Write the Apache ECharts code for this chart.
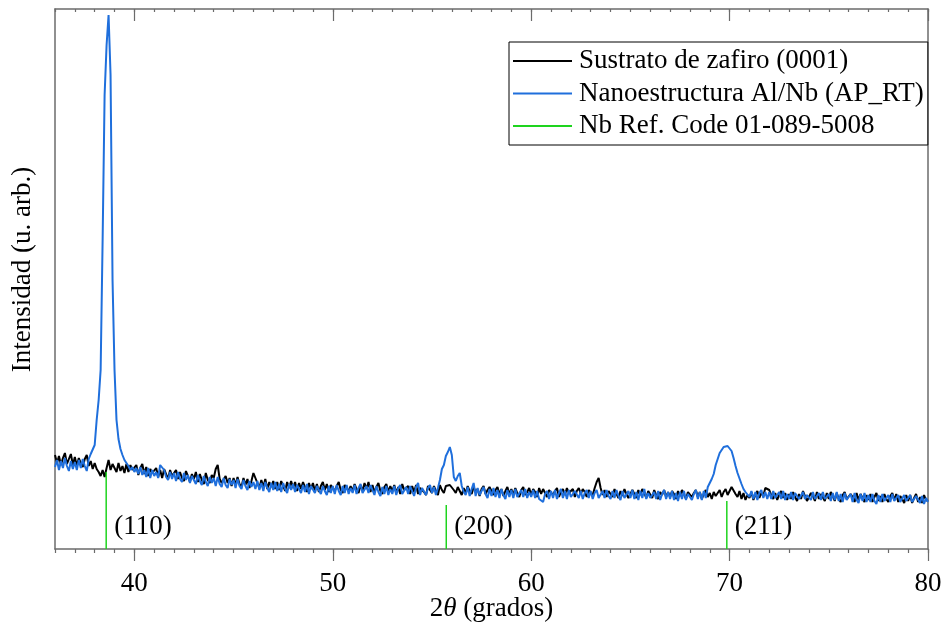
<!DOCTYPE html>
<html>
<head>
<meta charset="utf-8">
<script src="https://cdn.jsdelivr.net/npm/echarts@6/dist/echarts.min.js"></script>
<style>
html,body{margin:0;padding:0;background:#fff;}
#chart{width:945px;height:628px;}
</style>
</head>
<body>
<div id="chart"></div>
<script>
// 2θ sampling grid (degrees)
const twoThetaStart = 36;
const twoThetaStep = 0.1;
const xMin = 36, xMax = 80;
const xMajorTicks = [40, 50, 60, 70, 80];

// Sustrato de zafiro (0001) – intensity (a.u.), one row per degree (x.0 ... x.9)
const sustrato = [
  94, 86, 93, 84, 91, 96, 85, 90, 95, 84,   // 36
  92, 83, 91, 86, 82, 90, 94, 83, 88, 80,   // 37
  86, 80, 77, 73, 79, 72, 81, 89, 79, 85,   // 38
  85, 77, 86, 78, 83, 76, 85, 77, 84, 79,   // 39
  77, 84, 74, 81, 85, 75, 82, 73, 80, 76,   // 40
  74, 81, 72, 79, 71, 80, 75, 70, 79, 73,   // 41
  72, 79, 70, 77, 71, 68, 78, 73, 67, 75,   // 42
  70, 77, 67, 75, 69, 65, 76, 69, 66, 74,   // 43
  71, 80, 84, 70, 66, 64, 73, 66, 71, 63,   // 44
  71, 64, 72, 65, 62, 71, 64, 70, 61, 68,   // 45
  76, 78, 66, 61, 69, 62, 70, 60, 67, 62,   // 46
  68, 60, 67, 59, 68, 63, 58, 67, 61, 68,   // 47
  61, 67, 58, 66, 60, 67, 62, 57, 66, 60,   // 48
  66, 58, 65, 57, 63, 67, 59, 65, 57, 64,   // 49
  65, 58, 63, 67, 59, 56, 64, 66, 58, 63,   // 50
  58, 65, 60, 56, 64, 58, 66, 60, 67, 57,   // 51
  64, 57, 62, 66, 58, 55, 62, 65, 57, 63,   // 52
  58, 64, 56, 62, 55, 65, 59, 57, 63, 55,   // 53
  63, 57, 64, 55, 61, 63, 57, 54, 63, 59,   // 54
  56, 63, 58, 54, 64, 59, 56, 63, 61, 64,   // 55
  63, 59, 56, 62, 58, 54, 61, 56, 63, 58,   // 56
  55, 62, 57, 60, 53, 60, 63, 55, 59, 62,   // 57
  61, 54, 59, 62, 55, 60, 53, 58, 62, 55,   // 58
  60, 54, 61, 56, 52, 59, 62, 54, 57, 61,   // 59
  54, 60, 57, 52, 61, 55, 60, 56, 52, 59,   // 60
  60, 54, 58, 61, 52, 57, 60, 54, 61, 56,   // 61
  54, 60, 52, 58, 61, 55, 60, 57, 52, 59,   // 62
  58, 54, 61, 67, 71, 61, 54, 59, 52, 58,   // 63
  59, 52, 60, 55, 51, 58, 53, 60, 55, 51,   // 64
  53, 59, 55, 51, 59, 54, 60, 56, 51, 58,   // 65
  57, 51, 59, 54, 50, 57, 54, 59, 52, 57,   // 66
  52, 58, 55, 50, 58, 53, 59, 55, 50, 57,   // 67
  58, 52, 56, 59, 52, 57, 50, 55, 59, 52,   // 68
  56, 50, 57, 53, 56, 59, 52, 57, 60, 54,   // 69
  58, 62, 64, 55, 52, 58, 50, 56, 49, 54,   // 70
  51, 57, 49, 54, 58, 51, 56, 53, 61, 63,   // 71
  59, 54, 50, 56, 49, 54, 58, 51, 56, 49,   // 72
  55, 50, 57, 52, 48, 55, 50, 58, 53, 48,   // 73
  50, 56, 53, 48, 57, 50, 55, 53, 48, 56,   // 74
  50, 57, 53, 48, 56, 50, 47, 54, 57, 50,   // 75
  48, 55, 52, 47, 56, 49, 55, 51, 47, 54,   // 76
  49, 55, 47, 52, 56, 48, 53, 47, 55, 50,   // 77
  47, 53, 56, 49, 55, 47, 53, 50, 46, 54,   // 78
  48, 54, 46, 51, 55, 47, 52, 46, 54, 49,   // 79
  48                                        // 80
];

// Nanoestructura Al/Nb (AP_RT) – intensity (a.u.)
const nanoestructura = [
  82, 89, 79, 88, 81, 91, 83, 78, 88, 80,   // 36
  87, 79, 89, 81, 90, 83, 78, 90, 95, 97,   // 37
  104, 129, 149, 179, 309, 454, 504, 534, 474, 269, // 38
  179, 129, 110, 100, 94, 89, 86, 83, 79, 82,   // 39
  77, 81, 75, 82, 74, 79, 72, 81, 71, 79,   // 40
  73, 77, 71, 84, 86, 79, 72, 69, 77, 70,   // 41
  76, 68, 77, 70, 67, 76, 69, 74, 66, 73,   // 42
  69, 65, 74, 68, 64, 73, 67, 63, 72, 66,   // 43
  71, 63, 72, 65, 62, 71, 64, 61, 70, 64,   // 44
  69, 61, 70, 63, 60, 69, 63, 59, 68, 62,   // 45
  67, 60, 68, 59, 66, 58, 67, 61, 57, 66,   // 46
  59, 67, 58, 65, 57, 66, 60, 56, 65, 59,   // 47
  65, 57, 64, 66, 56, 64, 57, 65, 55, 63,   // 48
  64, 56, 63, 65, 55, 63, 58, 54, 63, 56,   // 49
  63, 55, 64, 58, 54, 63, 56, 64, 55, 61,   // 50
  56, 64, 55, 61, 65, 56, 54, 63, 56, 64,   // 51
  62, 54, 63, 57, 53, 62, 55, 63, 54, 60,   // 52
  55, 63, 54, 61, 64, 55, 53, 62, 55, 63,   // 53
  61, 53, 62, 66, 54, 61, 63, 54, 61, 64,   // 54
  56, 62, 54, 61, 69, 80, 84, 93, 97, 102,  // 55
  94, 72, 68, 73, 76, 63, 57, 54, 62, 53,   // 56
  60, 66, 53, 61, 54, 52, 62, 55, 51, 60,   // 57
  53, 61, 52, 59, 51, 60, 54, 50, 59, 52,   // 58
  59, 51, 60, 52, 50, 59, 52, 60, 51, 57,   // 59
  52, 59, 51, 58, 50, 48, 47, 55, 58, 50,   // 60
  58, 51, 59, 50, 56, 60, 51, 58, 50, 59,   // 61
  52, 50, 58, 60, 51, 58, 50, 56, 59, 51,   // 62
  58, 50, 56, 59, 51, 49, 58, 51, 59, 53,   // 63
  50, 58, 51, 59, 53, 49, 58, 51, 50, 58,   // 64
  51, 59, 50, 57, 49, 58, 51, 60, 50, 56,   // 65
  51, 49, 57, 50, 58, 49, 55, 59, 50, 57,   // 66
  50, 58, 49, 56, 48, 57, 50, 58, 49, 55,   // 67
  57, 49, 55, 59, 50, 57, 49, 58, 51, 62,   // 68
  66, 70, 75, 84, 90, 96, 99, 102, 100, 103, // 69
  105, 98, 91, 83, 76, 74, 65, 60, 57, 59,  // 70
  52, 58, 50, 57, 49, 56, 59, 51, 57, 50,   // 71
  57, 50, 58, 51, 49, 57, 50, 58, 49, 55,   // 72
  50, 57, 49, 56, 58, 50, 48, 57, 50, 54,   // 73
  56, 49, 57, 50, 48, 56, 49, 57, 50, 48,   // 74
  55, 48, 56, 49, 57, 48, 55, 47, 56, 49,   // 75
  48, 55, 47, 56, 49, 46, 55, 48, 56, 47,   // 76
  54, 47, 55, 48, 45, 54, 47, 55, 48, 46,   // 77
  54, 47, 55, 48, 46, 54, 47, 45, 54, 48,   // 78
  46, 54, 47, 45, 53, 55, 46, 53, 45, 51,   // 79
  47                                        // 80
];

// Nb reference pattern (Ref. Code 01-089-5008)
const refPositions = [38.58, 55.72, 69.86];
const refHeights = [77, 44, 48];
const refLabels = ['(110)', '(200)', '(211)'];
const refLabelLevel = 22;

const seriesNames = ['Sustrato de zafiro (0001)', 'Nanoestructura Al/Nb (AP_RT)', 'Nb Ref. Code 01-089-5008'];
const yTop = 540;

function toPairs(vals) {
  return vals.map((v, i) => [+(twoThetaStart + i * twoThetaStep).toFixed(2), v]);
}

const FONT = 'Liberation Serif';
const FS = 27;
const AXIS_COLOR = '#6b6b6b';

const chart = echarts.init(document.getElementById('chart'), null, {renderer: 'canvas'});
chart.setOption({
  backgroundColor: '#ffffff',
  animation: false,
  grid: {left: 55, right: 17, top: 9, bottom: 79, containLabel: false, outerBoundsMode: 'none'},
  legend: {
    data: seriesNames,
    orient: 'vertical',
    left: 509, top: 42,
    backgroundColor: '#ffffff',
    borderColor: '#000000', borderWidth: 1,
    padding: [5, 4, 5, 4],
    itemGap: 4.5,
    icon: 'rect',
    itemWidth: 59, itemHeight: 2,
    textStyle: {fontFamily: FONT, fontSize: FS, color: '#000', lineHeight: 28, padding: [0, 0, 0, 2]}
  },
  xAxis: [
    {
      type: 'value', gridIndex: 0, position: 'bottom', min: xMin, max: xMax, interval: 1,
      axisLine: {show: true, lineStyle: {color: AXIS_COLOR, width: 1.5}},
      axisTick: {show: true, inside: false, length: 4, lineStyle: {color: AXIS_COLOR, width: 1.2}},
      axisLabel: {show: true, margin: 21, fontFamily: FONT, fontSize: FS, color: '#000',
        formatter: v => (xMajorTicks.indexOf(v) >= 0 ? String(v) : '')},
      splitLine: {show: false},
      name: '{n|2}{i|θ}{n| (grados)}',
      nameLocation: 'middle', nameGap: 46, nameMoveOverlap: false,
      nameTextStyle: {
        fontFamily: FONT, fontSize: FS, color: '#000',
        rich: {
          n: {fontFamily: FONT, fontSize: FS, color: '#000'},
          i: {fontFamily: FONT, fontSize: FS, color: '#000', fontStyle: 'italic'}
        }
      }
    },
    {
      type: 'value', gridIndex: 0, position: 'bottom', min: xMin, max: xMax,
      axisLine: {show: false},
      axisTick: {show: true, inside: false, length: 12, customValues: xMajorTicks, lineStyle: {color: AXIS_COLOR, width: 1.2}},
      axisLabel: {show: false},
      splitLine: {show: false}
    },
    {
      type: 'value', gridIndex: 0, position: 'top', min: xMin, max: xMax, interval: 1,
      axisLine: {show: true, lineStyle: {color: AXIS_COLOR, width: 1.5}},
      axisTick: {show: true, inside: true, length: 3, lineStyle: {color: AXIS_COLOR, width: 1.2}},
      axisLabel: {show: false},
      splitLine: {show: false}
    },
    {
      type: 'value', gridIndex: 0, position: 'top', min: xMin, max: xMax,
      axisLine: {show: false},
      axisTick: {show: true, inside: true, length: 12, customValues: xMajorTicks, lineStyle: {color: AXIS_COLOR, width: 1.2}},
      axisLabel: {show: false},
      splitLine: {show: false}
    }
  ],
  yAxis: [
    {
      type: 'value', gridIndex: 0, position: 'left', min: 0, max: yTop,
      axisLine: {show: true, lineStyle: {color: AXIS_COLOR, width: 1.5}},
      axisTick: {show: false}, axisLabel: {show: false}, splitLine: {show: false},
      name: 'Intensidad (u. arb.)', nameLocation: 'middle', nameGap: 19,
      nameTextStyle: {fontFamily: FONT, fontSize: FS, color: '#000', padding: [0, 0, 0, 19]}
    },
    {
      type: 'value', gridIndex: 0, position: 'right', min: 0, max: yTop,
      axisLine: {show: true, lineStyle: {color: AXIS_COLOR, width: 1.5}},
      axisTick: {show: false}, axisLabel: {show: false}, splitLine: {show: false}
    }
  ],
  series: [
    {
      name: seriesNames[0], type: 'line', xAxisIndex: 0, yAxisIndex: 0,
      data: toPairs(sustrato), symbol: 'none', showSymbol: false,
      lineStyle: {color: '#000000', width: 2}, itemStyle: {color: '#000000'}, z: 2
    },
    {
      name: seriesNames[1], type: 'line', xAxisIndex: 0, yAxisIndex: 0,
      data: toPairs(nanoestructura), symbol: 'none', showSymbol: false,
      lineStyle: {color: '#1f6fdc', width: 2}, itemStyle: {color: '#1f6fdc'}, z: 3
    },
    {
      name: seriesNames[2], type: 'bar', xAxisIndex: 0, yAxisIndex: 0,
      data: refPositions.map((p, i) => [p, refHeights[i]]),
      barWidth: 1.5, itemStyle: {color: '#1ed41e'}, z: 4
    },
    {
      name: 'hkl', type: 'scatter', xAxisIndex: 0, yAxisIndex: 0,
      data: refPositions.map((p, i) => ({value: [p, refLabelLevel], label: {formatter: refLabels[i]}})),
      symbolSize: 0, itemStyle: {color: '#000000', opacity: 1},
      label: {show: true, position: 'right', distance: 8, fontFamily: FONT, fontSize: FS, color: '#000000', opacity: 1, textBorderWidth: 0},
      silent: true, z: 5
    }
  ]
});
</script>
</body>
</html>
